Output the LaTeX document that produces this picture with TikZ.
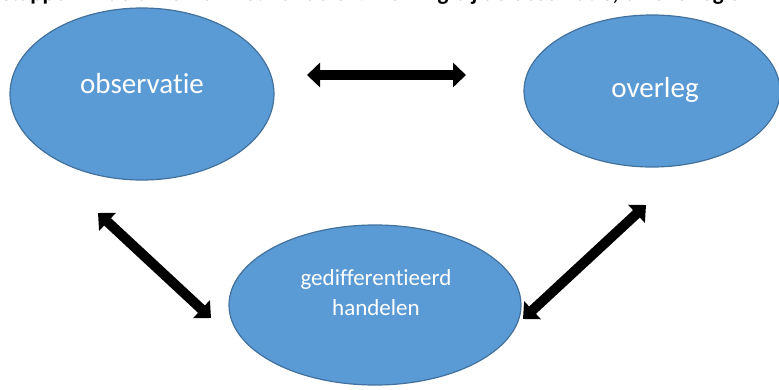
\documentclass[tikz,border=0pt]{standalone}
\usepackage{fontspec}
\setmainfont{Carlito}[Ligatures=NoCommon]
\usetikzlibrary{arrows.meta}
\definecolor{ellfill}{HTML}{5B9BD5}
\definecolor{elldraw}{HTML}{41719C}
\tikzset{
  bubble/.style={fill=ellfill, draw=elldraw, line width=1.2pt},
  bubbletext/.style={text=white, inner sep=0pt},
  blockarrow/.style={line width=10pt, black, {Triangle[width=24pt,length=13pt]}-{Triangle[width=24pt,length=13pt]}},
}
\begin{document}
\begin{tikzpicture}[x=1pt,y=-1pt]
\useasboundingbox (0,0) rectangle (779,389);
\clip (0,0) rectangle (779,389);
% clipped heading (only its lower edge lies inside the picture)
\node[anchor=base west, inner sep=0pt, font=\fontsize{23}{26}\selectfont\bfseries] (title) at (2,0.5)
  {stappen in de cirkel van het handelen: werking bij de observatie, en overleg en};
% ellipses
\draw[bubble] (142,94) ellipse [x radius=132, y radius=86];
\draw[bubble] (652,91) ellipse [x radius=128, y radius=76];
\draw[bubble] (375,305) ellipse [x radius=146, y radius=80];
\node[bubbletext, font=\fontsize{29}{34}\selectfont] (obs) at (142,84) {observatie};
\node[bubbletext, font=\fontsize{29}{34}\selectfont] (ovl) at (655,90) {overleg};
\node[bubbletext, font=\fontsize{23}{30}\selectfont, align=center] (ged) at (376,293) {gedifferentieerd\\handelen};
% arrow ends
\coordinate (a1) at (307,75);
\coordinate (a2) at (466,75);
\coordinate (b1) at (98,213);
\coordinate (b2) at (211,318);
\coordinate (c1) at (646,205);
\coordinate (c2) at (523,319);
\draw[blockarrow] (a1) -- (a2);
\draw[blockarrow] (b1) -- (b2);
\draw[blockarrow] (c1) -- (c2);
\end{tikzpicture}
\end{document}
